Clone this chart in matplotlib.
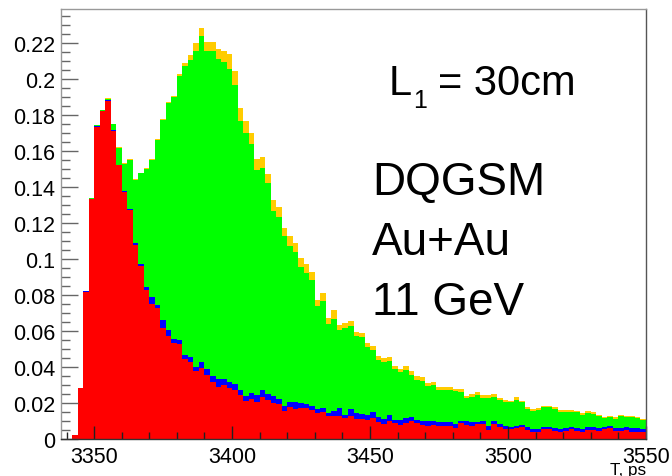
import numpy as np
import matplotlib
matplotlib.use("Agg")
import matplotlib.pyplot as plt
from matplotlib.ticker import MultipleLocator, FuncFormatter

plt.rcParams['font.family'] = ['Liberation Sans', 'DejaVu Sans']

# ##### Histogram data (2 ps bins, 3338 .. 3550 ps), stacked bottom -> top
bin_start = 3338
bin_width = 2

red = [0, 0, 0.0024, 0.0282, 0.0818, 0.1333, 0.1735, 0.182, 0.188, 0.171,
       0.152, 0.137, 0.127, 0.108, 0.0963, 0.083, 0.075, 0.0726, 0.0617, 0.0572,
       0.0532, 0.0528, 0.0444, 0.0426, 0.0376, 0.0394, 0.0356, 0.0315, 0.0287, 0.0302,
       0.0281, 0.0274, 0.0244, 0.0213, 0.0222, 0.0207, 0.0235, 0.0219, 0.02, 0.0194,
       0.0156, 0.018, 0.0167, 0.017, 0.017, 0.0163, 0.0143, 0.0148, 0.0126, 0.013,
       0.013, 0.0117, 0.013, 0.0111, 0.0111, 0.0107, 0.0117, 0.0093, 0.0083, 0.0102,
       0.0089, 0.008, 0.0089, 0.0098, 0.0089, 0.0078, 0.007, 0.0078, 0.0074, 0.0074,
       0.0074, 0.0059, 0.0089, 0.008, 0.0074, 0.0083, 0.0083, 0.005, 0.0083, 0.0065,
       0.0056, 0.0056, 0.0059, 0.0065, 0.0052, 0.0041, 0.0041, 0.0056, 0.0056, 0.0046,
       0.0041, 0.0046, 0.0056, 0.0046, 0.0041, 0.005, 0.005, 0.0046, 0.0056, 0.0059,
       0.0046, 0.0046, 0.005, 0.0041, 0.0041, 0.0037]

blue = [0, 0, 0, 0.0001, 0.0002, 0.0003, 0.0005, 0.0003, 0.0004, 0.0005,
        0.0005, 0.001, 0.001, 0.001, 0.0012, 0.0016, 0.0037, 0.002, 0.0044, 0.0034,
        0.0024, 0.0022, 0.0024, 0.0028, 0.0026, 0.0036, 0.0033, 0.0037, 0.0046, 0.0031,
        0.0034, 0.0032, 0.003, 0.0028, 0.0034, 0.0037, 0.0039, 0.0031, 0.0041, 0.0028,
        0.0025, 0.0024, 0.004, 0.003, 0.0024, 0.0022, 0.0024, 0.0022, 0.0018, 0.0027,
        0.004, 0.0018, 0.0037, 0.0032, 0.0028, 0.0028, 0.0031, 0.0027, 0.0028, 0.0031,
        0.0018, 0.0027, 0.0026, 0.0022, 0.0018, 0.0024, 0.0032, 0.0024, 0.0022, 0.0022,
        0.0022, 0.0024, 0.0013, 0.0018, 0.0022, 0.0013, 0.0019, 0.0024, 0.0019, 0.0018,
        0.0018, 0.0013, 0.0015, 0.0013, 0.0013, 0.0015, 0.0015, 0.0009, 0.0013, 0.0013,
        0.0015, 0.0015, 0.0013, 0.0013, 0.0015, 0.0015, 0.0015, 0.0013, 0.0013, 0.0015,
        0.0015, 0.0015, 0.0015, 0.0018, 0.0018, 0.0019]

green = [0, 0, 0, 0.0001, 0.0002, 0.0002, 0.0002, 0.0003, 0.0006, 0.0035,
         0.0092, 0.015, 0.027, 0.035, 0.0501, 0.0654, 0.0763, 0.0917, 0.1113, 0.1261,
         0.1342, 0.1468, 0.1606, 0.1653, 0.1754, 0.1807, 0.1768, 0.1805, 0.1778, 0.1763,
         0.1741, 0.1661, 0.1495, 0.1457, 0.1383, 0.1252, 0.1232, 0.117, 0.1028, 0.1013,
         0.0945, 0.087, 0.083, 0.0754, 0.0728, 0.0698, 0.0574, 0.0599, 0.0495, 0.051,
         0.0437, 0.048, 0.0459, 0.0427, 0.0428, 0.0374, 0.0346, 0.0321, 0.0315, 0.0302,
         0.0282, 0.0263, 0.027, 0.0238, 0.0223, 0.022, 0.0193, 0.0196, 0.0177, 0.0179,
         0.0178, 0.0182, 0.0159, 0.0128, 0.0137, 0.0146, 0.0128, 0.0156, 0.0131, 0.0132,
         0.0131, 0.0135, 0.0145, 0.0126, 0.0102, 0.0101, 0.0104, 0.0111, 0.0107, 0.0108,
         0.0096, 0.0091, 0.0083, 0.0089, 0.0079, 0.0079, 0.0074, 0.0067, 0.0048, 0.0048,
         0.0052, 0.0065, 0.0057, 0.0063, 0.0058, 0.0048]

orange = [0, 0, 0, 0, 0, 0, 0, 0.0002, 0.0002, 0.0002,
          0.0003, 0.0003, 0.0003, 0.0003, 0.0004, 0.0005, 0.0007, 0.0005, 0.0006, 0.0007,
          0.0009, 0.001, 0.0016, 0.0028, 0.0042, 0.0044, 0.0047, 0.005, 0.0056, 0.0058,
          0.0083, 0.0076, 0.0068, 0.0071, 0.0061, 0.006, 0.0063, 0.0052, 0.0059, 0.0052,
          0.0046, 0.0052, 0.0052, 0.005, 0.005, 0.0043, 0.0033, 0.0042, 0.0033, 0.005,
          0.0028, 0.0029, 0.0031, 0.0023, 0.0023, 0.0022, 0.0021, 0.0021, 0.0023, 0.0022,
          0.0019, 0.002, 0.0022, 0.002, 0.0022, 0.0023, 0.0015, 0.0021, 0.0015, 0.0015,
          0.0016, 0.0015, 0.0015, 0.0015, 0.0015, 0.0018, 0.0015, 0.0014, 0.0015, 0.0015,
          0.0013, 0.0009, 0.0012, 0.0009, 0.0009, 0.001, 0.001, 0.0009, 0.0009, 0.0009,
          0.0009, 0.0009, 0.0009, 0.0009, 0.0008, 0.001, 0.0009, 0.0007, 0.0007, 0.0008,
          0.0007, 0.0007, 0.0008, 0.0008, 0.0007, 0.0007]

series = [red, blue, green, orange]
colors = ["#ff0000", "#0000ff", "#00ff00", "#ffcc00"]


def main():
    edges = bin_start + bin_width * np.arange(len(red) + 1)

    fig = plt.figure(figsize=(6.72, 4.77), dpi=100)
    ax = fig.add_axes([61 / 672, 1 - 440 / 477, 585 / 672, 430 / 477])

    # Stacked histogram
    bottom = np.zeros(len(red))
    for values, color in zip(series, colors):
        top = bottom + np.array(values)
        ax.stairs(top, edges, baseline=bottom, fill=True, color=color, lw=0)
        bottom = top

    ax.set_xlim(3338, 3550)
    ax.set_ylim(0, 430 / 1800)

    # ROOT-like axes
    ax.xaxis.set_major_locator(MultipleLocator(50))
    ax.xaxis.set_minor_locator(MultipleLocator(10))
    ax.yaxis.set_major_locator(MultipleLocator(0.02))
    ax.yaxis.set_minor_locator(MultipleLocator(0.005))
    ax.yaxis.set_major_formatter(FuncFormatter(lambda v, p: f"{v:.2f}".rstrip('0').rstrip('.')))

    ax.tick_params(axis='x', which='major', direction='in', length=9.4, width=1,
                   color='#222222', labelsize=15.5, pad=5, top=False)
    ax.tick_params(axis='x', which='minor', direction='in', length=5, width=1,
                   color='#222222', top=False)
    ax.tick_params(axis='y', which='major', direction='in', length=12.2, width=1,
                   color='#666666', labelsize=15.5, pad=4.3, right=False)
    ax.tick_params(axis='y', which='minor', direction='in', length=6.5, width=1,
                   color='#666666', right=False)

    ax.spines['left'].set_color('#999999')
    ax.spines['top'].set_color('#999999')
    ax.spines['right'].set_color('#555555')
    ax.spines['bottom'].set_color('#333333')
    for s in ax.spines.values():
        s.set_linewidth(1)

    # Axis title
    fig.text(646 / 672, 1 - 475 / 477, "T, ps", ha='right', va='baseline', fontsize=12.3)

    # Annotations
    fig.text(389 / 672, 1 - 95 / 477, "L", ha='left', va='baseline', fontsize=30)
    fig.text(413 / 672, 1 - 108 / 477, "1", ha='left', va='baseline', fontsize=18)
    fig.text(438 / 672, 1 - 95 / 477, "= 30cm", ha='left', va='baseline', fontsize=30)
    for i, line in enumerate(["DQGSM", "Au+Au", "11 GeV"]):
        fig.text(372 / 672, 1 - (195 + 60 * i) / 477, line, ha='left', va='baseline', fontsize=33)

    fig.savefig("out.png", dpi=100)


if __name__ == "__main__":
    main()
